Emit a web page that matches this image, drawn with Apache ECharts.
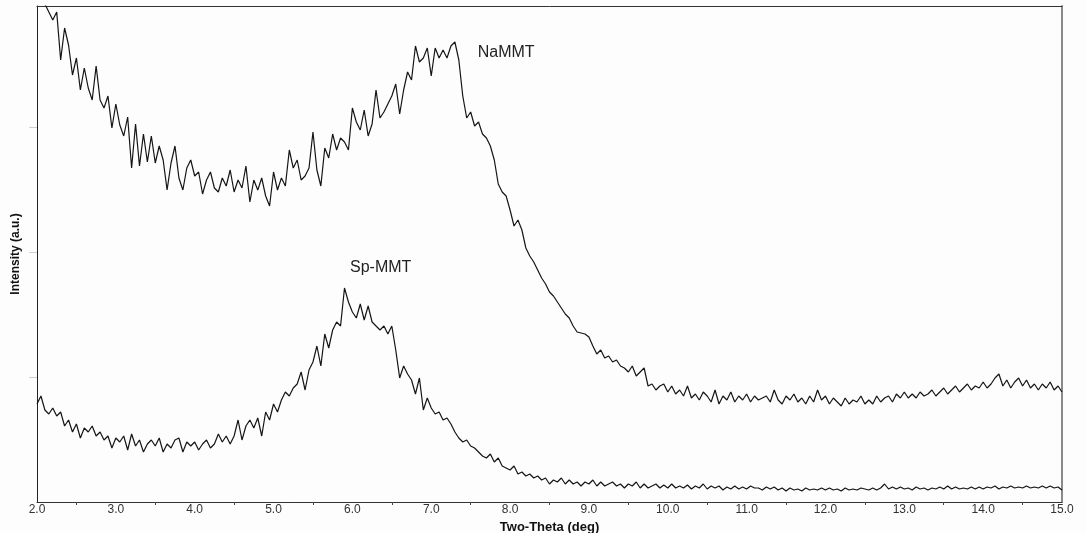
<!DOCTYPE html>
<html>
<head>
<meta charset="utf-8">
<script src="https://cdn.jsdelivr.net/npm/echarts@6/dist/echarts.min.js"></script>
<style>
  html, body { margin: 0; padding: 0; background: #fdfdfd; }
  #chart { width: 1086px; height: 533px; }
</style>
</head>
<body>
<div id="chart"></div>
<script>
// Two-theta sampling of the scans (deg)
const X_START = 2.0;
const X_STEP = 0.05;
const X_MIN = 2.0;
const X_MAX = 15.0;

// NaMMT intensity (a.u.), one value per 0.05 deg from 2.00 to 15.00
const naMMT = [
  512,504,498,490,482,490,442,474,457,427,
  444,412,434,414,402,436,402,394,406,374,
  398,377,366,385,334,378,336,368,340,366,
  339,356,342,312,339,356,324,312,334,342,
  326,330,308,322,330,314,310,324,316,332,
  310,322,314,336,300,322,312,324,306,296,
  330,312,324,316,352,334,342,322,326,334,
  370,332,316,354,344,368,352,364,360,352,
  394,380,372,392,366,378,412,384,390,398,
  406,418,388,412,430,422,456,440,444,454,
  426,454,444,452,444,456,460,442,406,384,
  390,376,380,368,364,356,342,318,310,306,
  292,276,282,272,254,246,240,232,224,218,
  210,206,200,194,188,184,176,170,169,168,
  165,156,148,152,144,146,140,142,136,134,
  130,136,126,130,134,116,118,112,116,118,
  110,116,108,112,106,116,104,108,102,110,
  106,100,112,98,106,102,110,100,106,102,
  108,100,106,102,104,106,100,112,102,98,
  106,102,108,100,104,98,106,100,112,102,
  106,98,104,100,96,104,98,102,100,106,
  98,102,98,106,100,104,106,100,108,104,
  110,104,108,104,110,106,108,112,106,110,
  114,108,112,116,110,114,118,112,116,114,
  120,114,118,124,128,116,122,114,120,124,
  116,122,114,118,112,118,114,120,112,116,
  110
];

// Sp-MMT intensity (a.u.), same sampling
const spMMT = [
  98,106,92,88,94,86,90,76,82,70,
  78,64,74,70,76,66,70,62,66,54,
  64,60,66,52,68,56,62,50,58,62,
  56,64,50,58,54,62,64,50,60,56,
  60,52,58,62,54,58,68,60,66,58,
  66,82,62,76,82,74,84,66,90,82,
  98,90,102,110,106,114,118,130,112,132,
  140,156,136,168,154,172,180,176,214,200,
  190,184,198,182,196,180,176,172,176,168,
  176,152,124,136,128,122,108,124,92,104,
  94,88,90,82,84,78,70,64,60,62,
  56,54,50,46,44,48,40,44,36,34,
  32,36,28,30,26,28,24,26,22,24,
  18,22,20,24,18,22,18,20,16,20,
  18,22,16,20,16,18,20,16,18,14,
  18,16,20,14,18,14,16,18,14,17,
  14,18,14,16,14,17,13,16,14,18,
  13,16,14,16,12,15,13,16,13,15,
  13,16,14,14,12,15,13,15,12,14,
  11,14,12,13,11,14,12,13,12,14,
  12,14,12,13,11,14,12,13,12,14,
  13,12,14,12,14,18,13,15,13,15,
  13,14,12,15,13,14,12,14,13,15,
  13,16,13,15,13,14,13,15,13,15,
  13,15,14,16,13,15,14,16,14,15,
  14,16,14,15,14,16,14,16,14,15,
  12
];

const seriesNames = ['NaMMT', 'Sp-MMT'];
// label anchor positions in data coordinates [two-theta, intensity]
const labelAnchors = [[7.59, 449], [5.97, 234]];
const yTicks = [125, 250, 375];
const Y_MAX = 496;

const toPairs = arr => arr.map((v, i) => [+(X_START + i * X_STEP).toFixed(2), v]);

const chart = echarts.init(document.getElementById('chart'), null, { renderer: 'canvas' });
const FONT = '"Liberation Sans", Arial, sans-serif';

chart.setOption({
  animation: false,
  backgroundColor: '#fdfdfd',
  grid: { left: 37, right: 24, top: 6, bottom: 31, show: false, containLabel: false, outerBoundsMode: 'none' },
  xAxis: [{
    type: 'value', min: X_MIN, max: X_MAX, interval: 1,
    name: 'Two-Theta (deg)', nameLocation: 'middle', nameGap: 14,
    nameTextStyle: { fontFamily: FONT, fontWeight: 'bold', fontSize: 13, color: '#111' },
    axisLine: { show: true, onZero: false, lineStyle: { color: '#333', width: 1 } },
    axisTick: { show: false },
    minorTick: { show: true, splitNumber: 2, length: 3, lineStyle: { color: '#444' } },
    axisLabel: { margin: 2, fontFamily: FONT, fontSize: 12, color: '#333',
      formatter: v => v.toFixed(1) },
    splitLine: { show: false }
  }, {
    type: 'value', position: 'top', min: X_MIN, max: X_MAX,
    axisLine: { show: true, onZero: false, lineStyle: { color: '#333', width: 1 } },
    axisTick: { show: false }, axisLabel: { show: false }, splitLine: { show: false }
  }],
  yAxis: [{
    type: 'value', min: 0, max: Y_MAX,
    name: 'Intensity (a.u.)', nameLocation: 'middle', nameGap: 15,
    nameTextStyle: { fontFamily: FONT, fontWeight: 'bold', fontSize: 12, color: '#111' },
    axisLine: { show: true, onZero: false, lineStyle: { color: '#222', width: 1 } },
    axisTick: { show: true, length: 8, customValues: yTicks, lineStyle: { color: '#cfcfcf' } },
    axisLabel: { show: false },
    splitLine: { show: false }
  }, {
    type: 'value', position: 'right', min: 0, max: Y_MAX,
    axisLine: { show: true, onZero: false, lineStyle: { color: '#8a8a8a', width: 2 } },
    axisTick: { show: false }, axisLabel: { show: false }, splitLine: { show: false }
  }],
  series: [naMMT, spMMT].map((arr, k) => ({
    name: seriesNames[k],
    type: 'line',
    data: toPairs(arr),
    showSymbol: false,
    symbol: 'none',
    clip: true,
    lineStyle: { color: '#151515', width: 1.2 }
  }))
});

chart.setOption({
  graphic: labelAnchors.map((p, k) => {
    const px = chart.convertToPixel({ gridIndex: 0 }, p);
    return {
      type: 'text', x: px[0], y: px[1],
      style: { text: seriesNames[k], font: '16px ' + FONT, fill: '#222', align: 'left', verticalAlign: 'middle' }
    };
  })
});
</script>
</body>
</html>
